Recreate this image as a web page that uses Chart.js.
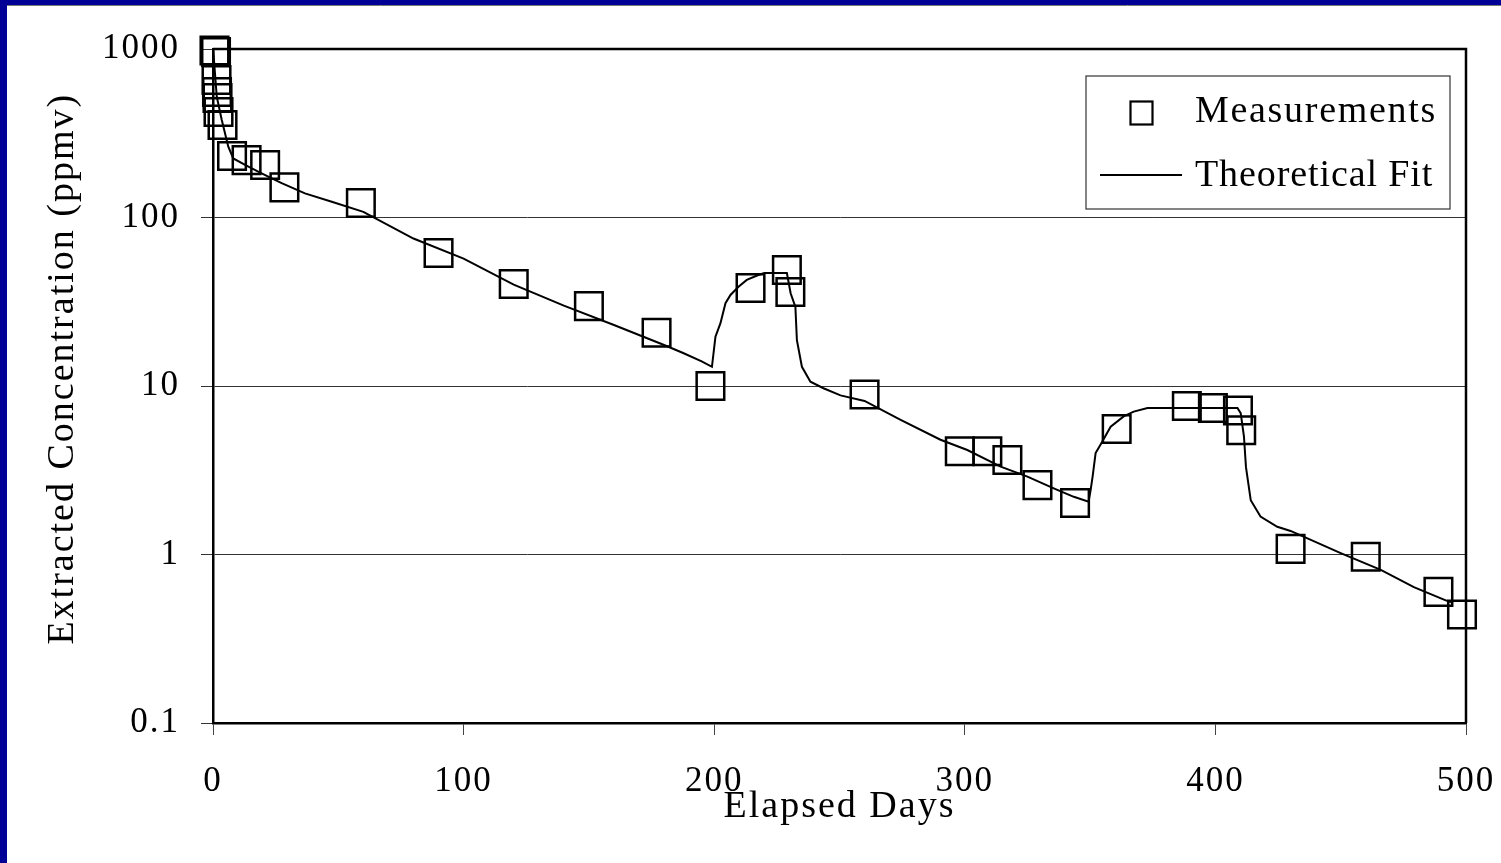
<!DOCTYPE html>
<html>
<head>
<meta charset="utf-8">
<script src="https://cdn.jsdelivr.net/npm/chart.js@4.4.0/dist/chart.umd.min.js"></script>
<style>
  html, body { margin: 0; padding: 0; background: #000096; }
  canvas { display: block; }
</style>
</head>
<body>
<canvas id="decayChart" width="1501" height="863"></canvas>
<script>
// Measured concentrations (elapsed days / ppmv)
const measDays = [0.6, 1.2, 1.4, 1.6, 1.8, 2.2, 3.8, 7.6, 13.4, 20.8, 28.5, 59, 90, 120, 150, 177, 198.5,
  214.5, 229, 230.4, 260, 298, 309, 317, 329, 344, 360.6, 388.6, 399, 409, 410.3, 430, 460, 489, 498.4];
const measPpmv = [980, 960, 655, 556, 512, 423, 354, 232, 219, 205, 151, 122, 61.5, 40.3, 29.8, 20.7, 10,
  38.2, 48.8, 36.1, 8.9, 4.1, 4.1, 3.64, 2.58, 2.02, 5.56, 7.6, 7.4, 7.16, 5.46, 1.08, 0.97, 0.6, 0.44];

// Theoretical fit
const fitDays = [0.1, 1.5, 3.5, 6.1, 8.1, 12.8, 19.4, 27.4, 36.7, 47.4, 60, 80, 100, 120, 140, 160, 180,
  187.6, 195, 199.1, 200.5, 202.5, 204.5, 206.5, 209.7, 213, 217.6, 220, 229, 230.5, 232.4, 233, 235,
  238.4, 243.6, 250.4, 260, 274.4, 290.3, 301, 314.3, 325, 335.5, 343.5, 349.4, 350.2, 351, 352.2,
  354.2, 358.2, 363.4, 367.4, 372.9, 408.8, 410.1, 411.4, 412.2, 414.1, 418, 424.7, 430, 450, 466,
  479.2, 491.2, 494];
const fitPpmv = [980, 521, 379, 263, 224, 205, 183, 160, 139, 124, 108, 75, 57, 40, 30, 23, 17.5,
  15.7, 14, 13, 19.6, 23.6, 31, 34.7, 38.8, 42.6, 45.6, 46.8, 46.8, 35.5, 29.5, 18.7, 13,
  10.6, 9.7, 8.8, 8.15, 6.3, 4.8, 4.17, 3.32, 2.9, 2.47, 2.2, 2.06, 2.4, 2.9, 4.0,
  4.5, 5.73, 6.6, 7.05, 7.4, 7.4, 6.9, 5.0, 3.3, 2.1, 1.68, 1.46, 1.38, 1.02, 0.81,
  0.64, 0.54, 0.52];

const yTickValues = [0.1, 1, 10, 100, 1000];
const seriesNames = ['Measurements', 'Theoretical Fit'];

const serif = "'Liberation Serif', 'Times New Roman', serif";

// navy slide border + white page
const slideBackground = {
  id: 'slideBackground',
  beforeDraw(chart) {
    const ctx = chart.ctx;
    ctx.save();
    ctx.fillStyle = '#000096';
    ctx.fillRect(0, 0, chart.width, chart.height);
    ctx.fillStyle = '#ffffff';
    ctx.fillRect(7, 5, chart.width - 7, chart.height - 5);
    ctx.strokeStyle = '#777';
    ctx.lineWidth = 1;
    ctx.beginPath();
    ctx.moveTo(7, 5.5);
    ctx.lineTo(chart.width, 5.5);
    ctx.stroke();
    ctx.restore();
    ctx.letterSpacing = '2px';
  }
};

// top and right edges of the plot box
const plotFrame = {
  id: 'plotFrame',
  beforeDatasetsDraw(chart) {
    const {ctx, chartArea: a} = chart;
    ctx.save();
    ctx.strokeStyle = '#000';
    ctx.lineWidth = 2.5;
    ctx.beginPath();
    ctx.moveTo(a.left, a.top);
    ctx.lineTo(a.right, a.top);
    ctx.lineTo(a.right, a.bottom);
    ctx.stroke();
    ctx.restore();
  }
};

// boxed legend in the upper right corner
const boxLegend = {
  id: 'boxLegend',
  afterDraw(chart) {
    const ctx = chart.ctx;
    const names = chart.data.datasets.map(d => d.label);
    ctx.save();
    ctx.fillStyle = '#fff';
    ctx.fillRect(1086, 76, 364, 133);
    ctx.strokeStyle = '#333';
    ctx.lineWidth = 1.2;
    ctx.strokeRect(1086, 76, 364, 133);

    ctx.strokeStyle = '#000';
    ctx.lineWidth = 2.2;
    ctx.strokeRect(1130.5, 101.5, 22, 23);
    ctx.beginPath();
    ctx.moveTo(1100, 175);
    ctx.lineTo(1182, 175);
    ctx.lineWidth = 2;
    ctx.stroke();

    ctx.fillStyle = '#000';
    ctx.font = '38px ' + serif;
    ctx.textBaseline = 'alphabetic';
    ctx.textAlign = 'left';
    ctx.letterSpacing = '1.7px';
    ctx.fillText(names[0], 1195, 122);
    ctx.letterSpacing = '0.9px';
    ctx.fillText(names[1], 1195, 186);
    ctx.restore();
  }
};

new Chart(document.getElementById('decayChart').getContext('2d'), {
  data: {
    datasets: [
      {
        type: 'scatter',
        label: seriesNames[0],
        data: measDays.map((d, i) => ({x: d, y: measPpmv[i]})),
        pointStyle: 'rect',
        pointRadius: 19.5,
        pointBorderWidth: 2.5,
        pointBorderColor: '#000',
        pointBackgroundColor: 'rgba(0,0,0,0)',
        clip: false,
        order: 1
      },
      {
        type: 'line',
        label: seriesNames[1],
        data: fitDays.map((d, i) => ({x: d, y: fitPpmv[i]})),
        borderColor: '#000',
        borderWidth: 2,
        pointRadius: 0,
        tension: 0,
        fill: false,
        order: 2
      }
    ]
  },
  options: {
    responsive: false,
    animation: false,
    layout: {
      padding: {left: 20, top: 49, right: 35, bottom: 0}
    },
    plugins: {
      legend: {display: false},
      tooltip: {enabled: false}
    },
    scales: {
      x: {
        type: 'linear',
        min: 0,
        max: 500,
        afterFit: s => {
          s.height = 140;
          s.paddingLeft = 0;
          s.paddingRight = 0;
        },
        ticks: {
          stepSize: 100,
          color: '#000',
          padding: 26,
          maxRotation: 0,
          font: {family: serif, size: 35}
        },
        grid: {
          drawOnChartArea: false,
          drawTicks: true,
          tickLength: 12,
          color: '#444',
          lineWidth: 1
        },
        border: {display: true, color: '#000', width: 2.5},
        title: {
          display: true,
          text: 'Elapsed Days',
          color: '#000',
          font: {family: serif, size: 38},
          padding: {top: 0, bottom: 33}
        }
      },
      y: {
        type: 'logarithmic',
        min: 0.1,
        max: 1000,
        afterFit: s => {
          s.width = 193;
          s.paddingTop = 0;
          s.paddingBottom = 0;
        },
        afterBuildTicks: s => { s.ticks = yTickValues.map(v => ({value: v})); },
        ticks: {
          color: '#000',
          padding: 21,
          font: {family: serif, size: 35},
          callback: v => String(v)
        },
        grid: {
          drawTicks: true,
          tickLength: 12,
          color: ctx => (ctx.tick && (ctx.tick.value === 0.1 || ctx.tick.value === 1000)) ? 'rgba(0,0,0,0)' : '#333',
          tickColor: '#333',
          lineWidth: 1
        },
        border: {display: true, color: '#000', width: 2.5},
        title: {
          display: true,
          text: '   Extracted Concentration (ppmv)',
          color: '#000',
          font: {family: serif, size: 38},
          padding: {top: 20, bottom: 0}
        }
      }
    }
  },
  plugins: [slideBackground, plotFrame, boxLegend]
});
</script>
</body>
</html>
